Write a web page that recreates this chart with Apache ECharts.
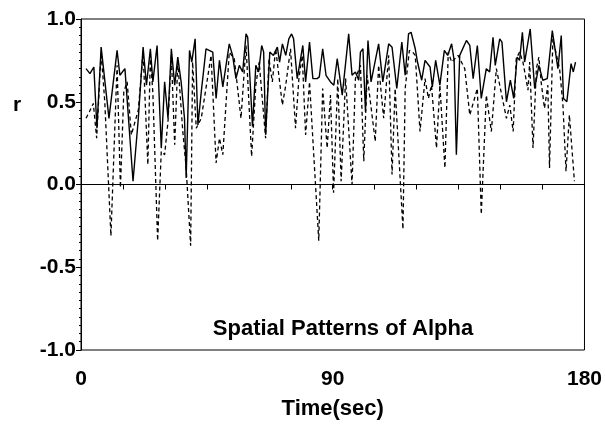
<!DOCTYPE html>
<html>
<head>
<meta charset="utf-8">
<script src="https://cdn.jsdelivr.net/npm/echarts@6/dist/echarts.min.js"></script>
<style>
html,body{margin:0;padding:0;background:#fff;}
#c{width:605px;height:425px;}
</style>
</head>
<body>
<div id="c"></div>
<script>
// ---- data ----
const solidTime = [1.8,3.2,4.6,5.7,7.2,10.0,12.9,13.9,15.7,18.6,20.5,22.2,23.4,24.8,25.7,27.2,28.7,29.9,31.1,32.3,33.5,34.6,35.8,37.0,37.6,38.8,39.6,40.8,41.8,43.0,44.7,47.1,48.3,49.5,50.7,53.0,54.2,55.4,56.6,57.8,59.0,59.6,60.7,61.3,62.5,63.5,64.6,65.3,66.0,67.5,68.8,70.2,71.0,72.0,73.2,74.3,75.3,76.0,77.3,79.3,80.3,81.7,82.9,84.4,85.2,86.4,87.6,89.2,90.4,91.6,93.4,95.7,96.9,98.1,99.3,99.9,100.8,101.7,102.6,103.7,106.4,107.9,110.0,111.2,112.9,114.7,115.9,117.1,118.0,119.5,120.3,121.8,123.0,124.8,125.6,126.8,128.3,129.9,131.1,132.5,133.4,134.2,135.4,137.8,139.0,140.2,141.7,143.1,144.9,146.1,147.3,148.1,149.7,150.5,152.1,153.5,154.7,155.9,156.8,157.8,158.6,160.6,162.2,163.7,165.1,166.7,168.5,170.5,171.7,172.5,173.7,175.2,176.0,176.8];
const solidR = [0.70,0.67,0.71,0.34,0.83,0.40,0.81,0.66,0.70,0.02,0.40,0.83,0.60,0.82,0.62,0.84,0.22,0.62,0.40,0.82,0.60,0.77,0.62,0.40,0.04,0.81,0.74,0.88,0.36,0.56,0.82,0.80,0.52,0.75,0.59,0.85,0.78,0.64,0.72,0.68,0.91,0.89,0.55,0.35,0.72,0.68,0.84,0.80,0.30,0.80,0.78,0.83,0.74,0.85,0.78,0.88,0.91,0.88,0.64,0.84,0.62,0.86,0.64,0.64,0.65,0.82,0.66,0.62,0.60,0.76,0.54,0.91,0.66,0.68,0.63,0.80,0.82,0.44,0.87,0.62,0.85,0.62,0.85,0.83,0.58,0.86,0.66,0.91,0.92,0.82,0.74,0.63,0.75,0.71,0.59,0.75,0.60,0.81,0.78,0.85,0.75,0.18,0.78,0.87,0.84,0.64,0.84,0.52,0.70,0.68,0.89,0.72,0.88,0.86,0.50,0.63,0.52,0.77,0.75,0.92,0.74,0.94,0.58,0.72,0.63,0.64,0.93,0.70,0.90,0.52,0.50,0.73,0.68,0.74];
const dashTime = [1.8,3.0,4.4,5.6,7.2,8.5,10.7,12.9,14.1,15.3,16.5,18.0,20.5,22.2,23.9,24.8,25.7,27.4,28.7,29.9,31.1,32.3,33.5,34.6,36.4,37.6,39.2,39.9,41.2,43.0,46.5,48.3,49.5,50.7,53.0,54.8,57.2,59.0,61.0,62.5,63.7,66.0,67.2,68.4,69.6,72.0,73.2,74.9,76.7,77.9,79.1,80.3,81.7,85.0,86.4,88.0,89.2,90.3,91.8,93.0,94.6,96.9,98.1,99.9,101.1,102.3,105.2,106.4,108.2,110.0,111.2,112.3,115.1,115.9,117.4,118.6,119.5,121.2,123.0,124.2,125.3,127.1,128.3,130.1,131.3,132.5,134.8,137.2,139.0,141.7,143.1,144.9,146.7,148.5,149.7,152.1,153.3,154.5,155.6,156.8,158.0,159.8,160.4,161.6,162.8,163.7,164.5,165.7,166.9,167.5,168.7,171.1,172.3,173.4,174.6,176.4];
const dashR = [0.40,0.44,0.49,0.28,0.80,0.50,-0.31,0.72,-0.02,0.56,0.62,0.30,0.45,0.80,0.12,0.78,0.55,-0.34,0.20,0.18,0.38,0.78,0.24,0.74,0.32,0.10,-0.37,0.74,0.34,0.40,0.78,0.13,0.28,0.18,0.80,0.76,0.40,0.84,0.17,0.60,0.74,0.28,0.76,0.62,0.82,0.48,0.60,0.82,0.34,0.64,0.78,0.30,0.62,-0.34,0.58,0.22,0.54,-0.05,0.64,0.02,0.64,0.00,0.64,0.72,0.14,0.66,0.26,0.72,0.40,0.78,0.06,0.58,-0.27,0.58,0.81,0.80,0.78,0.32,0.64,0.52,0.60,0.22,0.60,0.10,0.80,0.74,0.78,0.70,0.42,0.58,-0.18,0.54,0.32,0.70,0.60,0.40,0.48,0.32,0.76,0.80,0.74,0.57,0.74,0.22,0.70,0.77,0.62,0.46,0.60,0.10,0.88,0.70,0.48,0.08,0.42,0.02];
const xTickLabels = [0, 90, 180];
const yTickLabels = ['-1.0','-0.5','0.0','0.5','1.0'];
const chartTitle = 'Spatial Patterns of Alpha';
const xName = 'Time(sec)';
const yName = 'r';

const pair = (ts, vs) => ts.map((t, i) => [t, vs[i]]);
const FONT = 'Liberation Sans, Arial, Helvetica, sans-serif';

const chart = echarts.init(document.getElementById('c'), null, {renderer: 'canvas'});
chart.setOption({
  backgroundColor: '#fff',
  animation: false,
  title: [
    {text: chartTitle, left: 338, top: 313, textAlign: 'center',
     textStyle: {fontFamily: FONT, fontWeight: 'bold', fontSize: 22, color: '#000'}},
    {text: yName, left: 8, top: 90,
     textStyle: {fontFamily: FONT, fontWeight: 'bold', fontSize: 21, color: '#000'}}
  ],
  grid: {left: 81, right: 17, top: 19, bottom: 73, show: true, borderColor: '#000', borderWidth: 1},
  xAxis: {
    type: 'value', min: 0, max: 180, interval: 15,
    name: xName, nameLocation: 'middle', nameGap: 48,
    nameTextStyle: {fontFamily: FONT, fontWeight: 'bold', fontSize: 22, color: '#000'},
    axisLine: {lineStyle: {color: '#000', width: 1}},
    axisTick: {show: true, inside: false, length: 5, lineStyle: {color: '#000'}},
    splitLine: {show: false},
    axisLabel: {
      margin: 19, fontFamily: FONT, fontWeight: 'bold', fontSize: 21, color: '#000',
      formatter: v => (xTickLabels.indexOf(v) >= 0 ? String(v) : '')
    }
  },
  yAxis: {
    type: 'value', min: -1, max: 1, interval: 0.5,
    axisLine: {show: true, lineStyle: {color: '#000', width: 1}},
    axisTick: {show: true, inside: false, length: 5, lineStyle: {color: '#000'}},
    minorTick: {show: true, splitNumber: 10, length: 2, lineStyle: {color: '#000'}},
    splitLine: {show: false},
    axisLabel: {
      margin: 5, fontFamily: FONT, fontWeight: 'bold', fontSize: 21, color: '#000',
      formatter: v => yTickLabels[Math.round((v + 1) / 0.5)]
    }
  },
  series: [
    {type: 'line', data: pair(solidTime, solidR), showSymbol: false, symbol: 'none',
     lineStyle: {color: '#000', width: 1.4, type: 'solid'}},
    {type: 'line', data: pair(dashTime, dashR), showSymbol: false, symbol: 'none',
     lineStyle: {color: '#000', width: 1.3, type: [4, 3]}}
  ]
});
</script>
</body>
</html>
